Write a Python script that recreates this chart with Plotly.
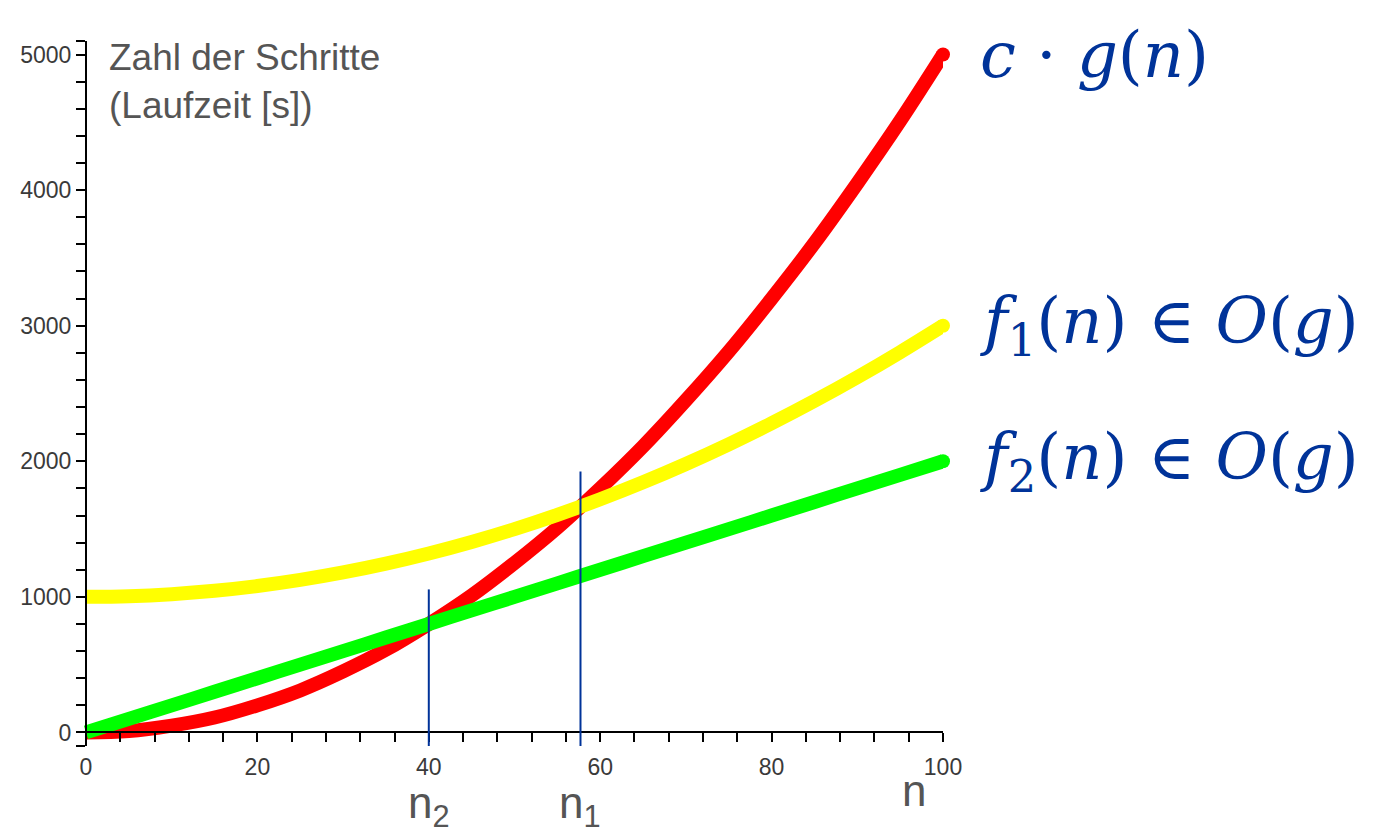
import plotly.graph_objects as go

# Problem size n and step counts
n = [0, 5, 10, 15, 20, 25, 30, 35, 40, 45, 50, 55, 60, 65, 70, 75, 80, 85, 90, 95, 100]
c_g = [0, 10, 50, 110, 200, 310, 450, 610, 800, 1010, 1250, 1510, 1800, 2110, 2450,
       2810, 3200, 3610, 4050, 4510, 5000]
f1 = [1000, 1005, 1020, 1045, 1080, 1125, 1180, 1245, 1320, 1405, 1500, 1605, 1720,
      1845, 1980, 2125, 2280, 2445, 2620, 2805, 3000]
f2 = [0, 100, 200, 300, 400, 500, 600, 700, 800, 900, 1000, 1100, 1200, 1300, 1400,
      1500, 1600, 1700, 1800, 1900, 2000]

# Thresholds n2 (c*g overtakes f2) and n1 (c*g overtakes f1) with marker heights
n_marks = [40, 57.7]
n_mark_tops = [1055, 1925]
n_mark_labels = ["n<sub>2</sub>", "n<sub>1</sub>"]

x_ticks = [0, 20, 40, 60, 80, 100]
y_ticks = [0, 1000, 2000, 3000, 4000, 5000]

x_range = [-0.7, 100]
y_range = [-100, 5100]

BLUE = "#003399"
GREY = "#555555"

fig = go.Figure()

series = [
    ("c_g", c_g, "#ff0000"),
    ("f2", f2, "#00ff00"),
    ("f1", f1, "#ffff00"),
]
for name, ys, col in series:
    fig.add_trace(go.Scatter(
        x=n, y=ys, name=name, mode="lines", line=dict(color=col, width=14, shape="spline"),
        hoverinfo="skip", showlegend=False,
    ))
    # rounded end point of each curve
    fig.add_trace(go.Scatter(
        x=[n[-1]], y=[ys[-1]], mode="markers", cliponaxis=False,
        marker=dict(color=col, size=14, line=dict(width=0)),
        hoverinfo="skip", showlegend=False,
    ))

# Vertical threshold markers
for xv, top in zip(n_marks, n_mark_tops):
    fig.add_shape(type="line", xref="x", yref="y", x0=xv, x1=xv, y0=y_range[0], y1=top,
                  line=dict(color=BLUE, width=2), layer="above")

for xv, lab in zip(n_marks, n_mark_labels):
    fig.add_annotation(x=xv, xref="x", y=-0.042, yref="paper", text=lab, showarrow=False,
                       xanchor="center", yanchor="top",
                       font=dict(family="Liberation Sans", size=44, color=GREY))

# Curve labels at the right ends
curve_labels = [
    ("<i>c</i> · <i>g</i>(<i>n</i>)", c_g[-1]),
    ("<i>f</i><sub>1</sub>(<i>n</i>) ∈ <i>O</i>(<i>g</i>)", f1[-1]),
    ("<i>f</i><sub>2</sub>(<i>n</i>) ∈ <i>O</i>(<i>g</i>)", f2[-1]),
]
for txt, yv in curve_labels:
    fig.add_annotation(x=1.04, xref="paper", y=yv, yref="y", text=txt, showarrow=False,
                       xanchor="left", yanchor="middle",
                       font=dict(family="DejaVu Serif", size=64, color=BLUE))

# Axis captions
fig.add_annotation(x=0.031, xref="paper", y=1.009, yref="paper",
                   text="Zahl der Schritte<br>(Laufzeit [s])", showarrow=False,
                   xanchor="left", yanchor="top", align="left",
                   font=dict(family="Liberation Sans", size=37, color=GREY))
fig.add_annotation(x=96.6, xref="x", y=-0.025, yref="paper", text="n", showarrow=False,
                   xanchor="center", yanchor="top",
                   font=dict(family="Liberation Sans", size=44, color=GREY))

tick_font = dict(family="Liberation Sans", size=23, color="#3a3a3a")

fig.update_layout(
    width=1382, height=833, autosize=False,
    margin=dict(l=80, r=439, t=41, b=87),
    paper_bgcolor="white", plot_bgcolor="white",
    xaxis=dict(
        range=x_range, anchor="free",
        position=(0 - y_range[0]) / (y_range[1] - y_range[0]),
        tickvals=x_ticks, ticktext=[str(v) for v in x_ticks],
        ticks="outside", ticklen=9, tickwidth=1.5, tickcolor="black",
        minor=dict(dtick=4, tick0=0, ticks="outside", ticklen=9, tickwidth=1.5, tickcolor="black"),
        showline=True, linecolor="black", linewidth=2,
        showgrid=False, zeroline=False, tickfont=tick_font, ticklabelstandoff=5,
    ),
    yaxis=dict(
        range=y_range, anchor="free",
        position=(0 - x_range[0]) / (x_range[1] - x_range[0]),
        tickvals=[y_range[0]] + y_ticks + [y_range[1]],
        ticktext=[""] + [str(v) for v in y_ticks] + [""],
        ticks="outside", ticklen=9, tickwidth=1.5, tickcolor="black",
        minor=dict(dtick=200, tick0=0, ticks="outside", ticklen=9, tickwidth=1.5, tickcolor="black"),
        showline=True, linecolor="black", linewidth=2,
        showgrid=False, zeroline=False, tickfont=tick_font,
    ),
)

fig.write_html("out.html")
